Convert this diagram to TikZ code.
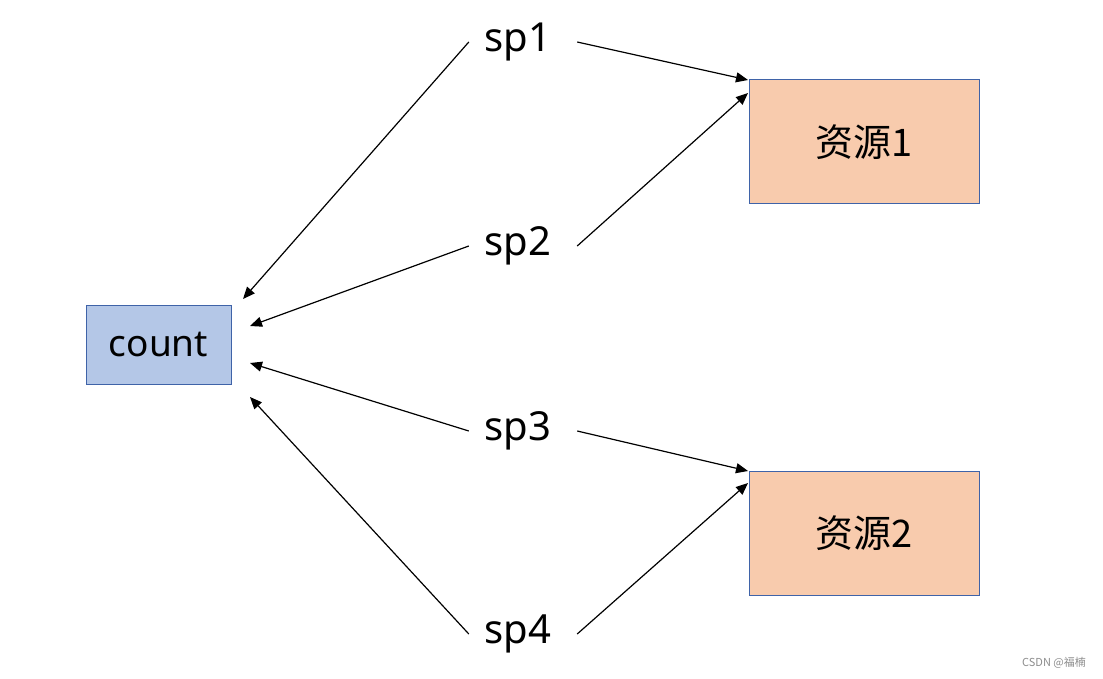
\documentclass[tikz,border=0pt]{standalone}
\usepackage{fontspec}
\setmainfont{Noto Sans}
\newfontfamily\cjk{Noto Sans CJK SC}
\usetikzlibrary{arrows.meta}
\definecolor{countfill}{HTML}{B4C7E7}
\definecolor{resfill}{HTML}{F8CBAD}
\definecolor{boxline}{HTML}{3F63A8}
\definecolor{wmgray}{HTML}{8C8C8C}
\tikzset{
  countbox/.style={draw=boxline, fill=countfill, line width=1pt, minimum width=145pt, minimum height=79pt, inner sep=0pt, font=\fontsize{37}{41}\selectfont},
  resbox/.style={draw=boxline, fill=resfill, line width=1pt, minimum width=230pt, minimum height=124pt, inner sep=0pt, font=\cjk\fontsize{38}{42}\selectfont},
  splabel/.style={inner sep=0pt, minimum width=108pt, minimum height=44pt, font=\fontsize{40}{44}\selectfont},
  conn/.style={line width=1.2pt, -{Triangle[length=12pt,width=10pt]}},
}
\begin{document}
\begin{tikzpicture}[x=1pt,y=-1pt]
\useasboundingbox (0,0) rectangle (1103,679);
\node[countbox] (count) at (158.5,344.5) {count};
\node[resbox] (res1) at (864,142) {资源1};
\node[resbox] (res2) at (864,533) {资源2};
\node[splabel] (sp1) at (523,42) {\makebox[0pt]{\hspace{-10pt}sp1}};
\node[splabel] (sp2) at (523,246) {\makebox[0pt]{\hspace{-10pt}sp2}};
\node[splabel] (sp3) at (523,431) {\makebox[0pt]{\hspace{-10pt}sp3}};
\node[splabel] (sp4) at (523,634) {\makebox[0pt]{\hspace{-10pt}sp4}};
\coordinate (c1) at (243,299);
\coordinate (c2) at (250,326);
\coordinate (c3) at (250,363);
\coordinate (c4) at (250,397);
\coordinate (r1a) at (748,80);
\coordinate (r1b) at (748,93);
\coordinate (r2a) at (748,471);
\coordinate (r2b) at (748,483);
\draw[conn] (sp1.west) -- (c1);
\draw[conn] (sp1.east) -- (r1a);
\draw[conn] (sp2.west) -- (c2);
\draw[conn] (sp2.east) -- (r1b);
\draw[conn] (sp3.west) -- (c3);
\draw[conn] (sp3.east) -- (r2a);
\draw[conn] (sp4.west) -- (c4);
\draw[conn] (sp4.east) -- (r2b);
\node[text=wmgray, font=\cjk\fontsize{11}{13}\selectfont, inner sep=0pt] (wm) at (1054,663) {CSDN @福楠};
\end{tikzpicture}
\end{document}
